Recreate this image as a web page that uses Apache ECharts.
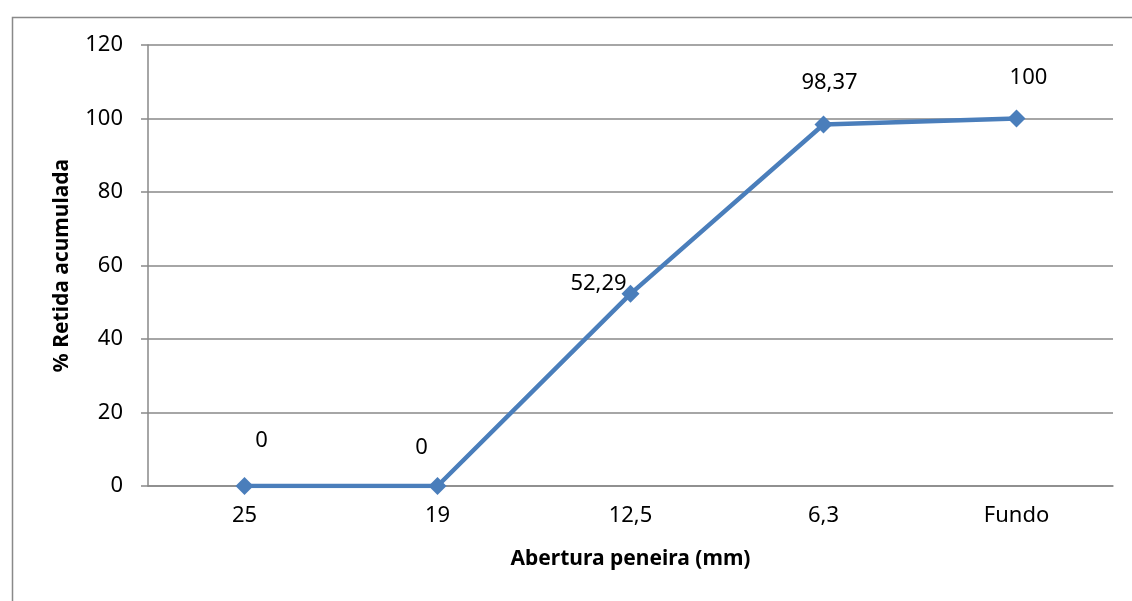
<!DOCTYPE html>
<html>
<head>
<meta charset="utf-8">
<script src="https://cdn.jsdelivr.net/npm/echarts@6/dist/echarts.min.js"></script>
<style>html,body{margin:0;padding:0;background:#fff;}#c{width:1132px;height:601px;}</style>
</head>
<body>
<div id="c"></div>
<script>
const categories = ['25', '19', '12,5', '6,3', 'Fundo'];
const retidaAcumulada = [0, 0, 52.29, 98.37, 100];
const yTicks = { min: 0, max: 120, interval: 20 };
const xTitle = 'Abertura peneira (mm)';
const yTitle = '% Retida acumulada';
// label placement (style only)
const labelOffsets = [[17, -45], [-16, -38], [-32, -10], [6, -42], [12, -41]];

const FONT = 'Noto Sans';
const grey = '#898989';
const chart = echarts.init(document.getElementById('c'));
chart.setOption({
  animation: false,
  backgroundColor: '#fff',
  textStyle: { fontFamily: FONT },
  graphic: [{
    type: 'rect', left: 10, top: 15, silent: true,
    shape: { width: 1140, height: 600 },
    style: { fill: 'none', stroke: grey, lineWidth: 1.5 }
  }],
  grid: { left: 148, right: 19, top: 45, bottom: 115 },
  xAxis: {
    type: 'category', data: categories, boundaryGap: true,
    axisLine: { show: true, lineStyle: { color: grey, width: 1.5 } },
    axisTick: { show: false },
    axisLabel: { color: '#000', fontSize: 22, fontFamily: FONT, margin: 19 },
    name: xTitle, nameLocation: 'middle', nameGap: 63,
    nameTextStyle: { color: '#000', fontSize: 21, fontWeight: 'bold', fontFamily: FONT }
  },
  yAxis: {
    type: 'value', min: yTicks.min, max: yTicks.max, interval: yTicks.interval,
    axisLine: { show: true, lineStyle: { color: grey, width: 1.5 } },
    axisTick: { show: true, length: 7, lineStyle: { color: grey, width: 1.5 } },
    splitLine: { show: true, lineStyle: { color: grey, width: 1.5 } },
    axisLabel: { color: '#000', fontSize: 22, fontFamily: FONT, margin: 25 },
    name: yTitle, nameLocation: 'middle', nameGap: 75, nameRotate: 90,
    nameTextStyle: { color: '#000', fontSize: 21, fontWeight: 'bold', fontFamily: FONT }
  },
  series: [{
    type: 'line',
    data: retidaAcumulada.map((v, i) => ({
      value: v,
      label: { offset: labelOffsets[i] }
    })),
    symbol: 'diamond', symbolSize: 18, showAllSymbol: true,
    lineStyle: { color: '#4a7ebb', width: 4.5 },
    itemStyle: { color: '#4a7ebb' },
    label: {
      show: true, position: 'inside', color: '#000', fontSize: 22, fontFamily: FONT,
      formatter: p => String(p.value).replace('.', ',')
    }
  }]
});
</script>
</body>
</html>
